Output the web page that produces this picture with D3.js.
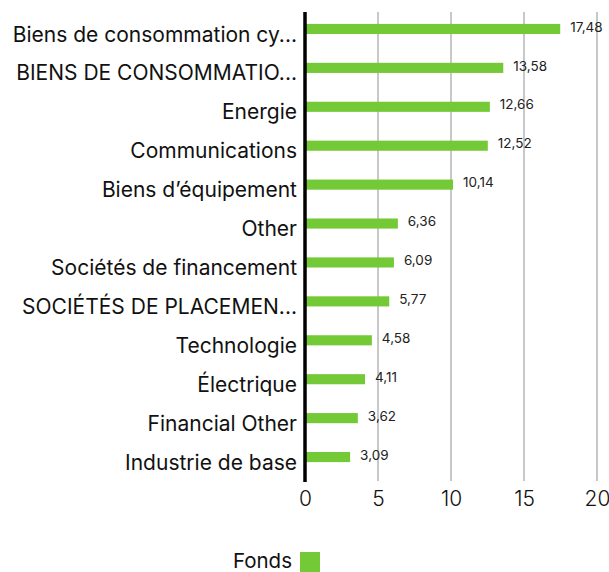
<!DOCTYPE html>
<html><head><meta charset="utf-8">
<script src="https://cdn.jsdelivr.net/npm/d3@7"></script>
<style>body{margin:0;background:#fff;}svg{display:block;font-family:Inter, sans-serif;}</style>
</head><body>
<svg id="c" width="609" height="572"></svg>
<script>
const categories = ["Biens de consommation cy...","BIENS DE CONSOMMATIO...","Energie","Communications","Biens d’équipement","Other","Sociétés de financement","SOCIÉTÉS DE PLACEMEN...","Technologie","Électrique","Financial Other","Industrie de base"];
const values = [17.48,13.58,12.66,12.52,10.14,6.36,6.09,5.77,4.58,4.11,3.62,3.09];
const xTicks = [0,5,10,15,20];
const seriesName = "Fonds";
const green = "#74c936";
const font = "Inter, sans-serif";

const svg = d3.select("#c");
const x = d3.scaleLinear().domain([0,20]).range([305,597]);
const y = d3.scaleBand().domain(categories).range([9.5,476.5]).paddingInner(0.74).paddingOuter(0.37);

// grid
svg.append("g").selectAll("line").data(xTicks.slice(1)).join("line")
  .attr("x1",d=>x(d)).attr("x2",d=>x(d)).attr("y1",12).attr("y2",481)
  .attr("stroke","#c8c8c8").attr("stroke-width",2);

// bars
svg.append("g").selectAll("rect").data(values).join("rect")
  .attr("x",x(0)).attr("y",(d,i)=>y(categories[i]))
  .attr("width",d=>x(d)-x(0)).attr("height",y.bandwidth())
  .attr("fill",green);

// value labels
svg.append("g").selectAll("text").data(values).join("text")
  .attr("x",d=>x(d)+10).attr("y",(d,i)=>y(categories[i])+y.bandwidth()/2-1)
  .attr("dominant-baseline","middle").attr("font-size",13.5).attr("fill","#222")
  .attr("font-family",font)
  .text(d=>d.toFixed(2).replace(".",","));

// y axis
const yAxis = svg.append("g").attr("transform",`translate(${x(0)},0)`)
  .call(d3.axisLeft(y).tickSize(0).tickPadding(8));
yAxis.select(".domain").remove();
yAxis.selectAll("text").attr("font-size",21).attr("fill","#111").attr("dy","0.6em")
  .attr("font-family",font);
svg.append("line").attr("x1",x(0)).attr("x2",x(0)).attr("y1",12).attr("y2",482)
  .attr("stroke","#000").attr("stroke-width",3.5);

// x axis
const xAxis = svg.append("g").attr("transform","translate(0,482)")
  .call(d3.axisBottom(x).tickValues(xTicks).tickSize(0).tickPadding(9).tickFormat(d3.format("d")));
xAxis.select(".domain").remove();
xAxis.selectAll("text").attr("font-size",21).attr("font-weight",300).attr("fill","#111").attr("font-family",font);

// legend
svg.append("text").attr("x",292).attr("y",568).attr("text-anchor","end")
  .attr("font-size",20.5).attr("fill","#111").attr("font-family",font).text(seriesName);
svg.append("rect").attr("x",300).attr("y",552).attr("width",20).attr("height",20).attr("fill",green);
</script>
</body></html>
